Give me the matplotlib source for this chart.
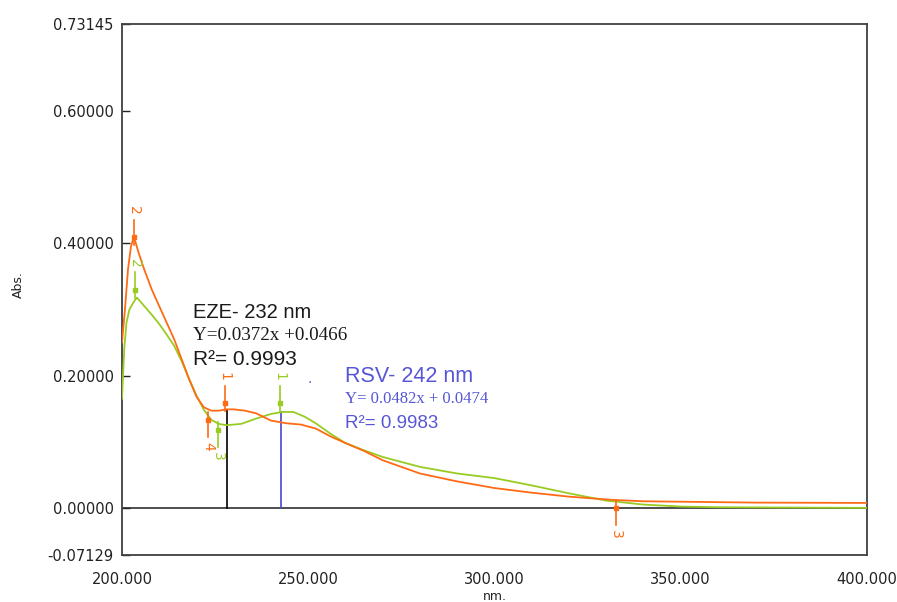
import matplotlib.pyplot as plt

# spectra (wavelength nm, absorbance)
eze_nm = [200.0, 200.8, 201.6, 202.4, 203.2, 204.5, 206, 208, 210, 212, 214, 216, 218,
          220, 222, 224, 226, 228, 230, 233, 236, 240, 244, 248, 252, 256, 260, 265,
          270, 275, 280, 290, 300, 310, 320, 332, 340, 355, 370, 400]
eze_abs = [0.25, 0.30, 0.36, 0.395, 0.41, 0.385, 0.36, 0.33, 0.305, 0.28, 0.255, 0.225, 0.195,
           0.168, 0.152, 0.147, 0.147, 0.149, 0.149, 0.147, 0.143, 0.132, 0.128, 0.126, 0.120,
           0.108, 0.098, 0.086, 0.072, 0.062, 0.052, 0.040, 0.030, 0.023, 0.017, 0.012,
           0.010, 0.009, 0.008, 0.0075]

rsv_nm = [200.0, 200.6, 201.2, 202, 203, 204, 206, 208, 210, 212, 214, 216, 218, 220,
          222, 224, 226, 228, 232, 236, 240, 243, 246, 249, 252, 256, 260, 265, 270,
          280, 290, 300, 310, 320, 330, 340, 350, 360, 400]
rsv_abs = [0.165, 0.24, 0.28, 0.30, 0.31, 0.318, 0.305, 0.292, 0.278, 0.262, 0.245, 0.222,
           0.195, 0.170, 0.148, 0.133, 0.127, 0.125, 0.127, 0.135, 0.142, 0.145, 0.145,
           0.138, 0.128, 0.112, 0.098, 0.087, 0.077, 0.062, 0.052, 0.045, 0.034, 0.022,
           0.011, 0.005, 0.002, 0.001, 0.0]

# peak pick markers: wavelength, absorbance, label
eze_pk_nm = [203.2, 227.6, 223.1, 332.6]
eze_pk_abs = [0.41, 0.159, 0.133, 0.0]
eze_pk_lab = ['2', '1', '4', '3']
eze_pk_dir = [1, 1, -1, -1]

rsv_pk_nm = [203.5, 242.4, 225.8]
rsv_pk_abs = [0.33, 0.159, 0.118]
rsv_pk_lab = ['2', '1', '3']
rsv_pk_dir = [1, 1, -1]

eze_line_nm, eze_line_abs = 228.2, 0.148
rsv_line_nm, rsv_line_abs = 242.7, 0.145

y_ticks = [-0.07129, 0.0, 0.2, 0.4, 0.6, 0.73145]
x_ticks = [200, 250, 300, 350, 400]

ORANGE = '#ff6a14'
GREEN = '#99cc22'
BLUE_TXT = '#5656d6'

plt.rcParams['font.family'] = ['DejaVu Sans']

fig = plt.figure(figsize=(8.97, 6.02), dpi=100)
ax = fig.add_axes([0.136, 0.078, 0.8305, 0.882])

ax.axhline(0, color='#303030', lw=1.2, zorder=1)
ax.plot(rsv_nm, rsv_abs, color=GREEN, lw=1.3, zorder=3)
ax.plot(eze_nm, eze_abs, color=ORANGE, lw=1.3, zorder=4)

ax.plot([eze_line_nm, eze_line_nm], [0, eze_line_abs], color='black', lw=1.2, zorder=2)
ax.plot([rsv_line_nm, rsv_line_nm], [0, rsv_line_abs], color='#4848c8', lw=1.2, zorder=2)


def peaks(nms, vals, labs, dirs, color):
    for x, y, lab, d in zip(nms, vals, labs, dirs):
        ax.plot([x, x], [y - 0.012 * d, y + 0.026 * d], color=color, lw=1.2, zorder=5)
        ax.plot([x], [y], 's', color=color, ms=3, zorder=5)
        ax.text(x, y + 0.04 * d, lab, color=color, fontsize=10, rotation=270,
                ha='center', va='center', zorder=5)


peaks(eze_pk_nm, eze_pk_abs, eze_pk_lab, eze_pk_dir, ORANGE)
peaks(rsv_pk_nm, rsv_pk_abs, rsv_pk_lab, rsv_pk_dir, GREEN)

# annotations
ax.text(219.1, 0.295, 'EZE- 232 nm', fontsize=14.5, family='Liberation Sans',
        color='#1a1a1a', va='center')
ax.text(219.1, 0.260, 'Y=0.0372x +0.0466', fontsize=13.8, family='Liberation Serif',
        color='#1a1a1a', va='center')
ax.text(219.1, 0.225, 'R²= 0.9993', fontsize=15, family='Liberation Sans',
        color='#1a1a1a', va='center')

ax.text(260.0, 0.199, 'RSV- 242 nm', fontsize=15.5, family='Liberation Sans',
        color=BLUE_TXT, va='center')
ax.text(260.0, 0.164, 'Y= 0.0482x + 0.0474', fontsize=12, family='Liberation Serif',
        color=BLUE_TXT, va='center')
ax.text(260.0, 0.127, 'R²= 0.9983', fontsize=13.5, family='Liberation Sans',
        color=BLUE_TXT, va='center')
ax.text(250.5, 0.195, '.', fontsize=10, color=BLUE_TXT, ha='center', va='center')

ax.set_xlim(200, 400)
ax.set_ylim(-0.07129, 0.73145)
ax.set_xticks(x_ticks)
ax.set_xticklabels(['%.3f' % v for v in x_ticks])
ax.set_yticks(y_ticks)
ax.set_yticklabels(['%.5f' % v for v in y_ticks])
ax.tick_params(axis='y', direction='in', length=6, width=1, pad=6, labelsize=10.5,
               colors='#222222')
ax.tick_params(axis='x', length=0, pad=12, labelsize=10.5, colors='#222222')
for s in ax.spines.values():
    s.set_color('#404040')
    s.set_linewidth(1.3)

fig.text(18 / 897, 1 - 285 / 602, 'Abs.', rotation=90, ha='center', va='center',
         fontsize=9, color='#222222')
fig.text(495 / 897, 1 - 597 / 602, 'nm.', ha='center', va='center', fontsize=9,
         color='#222222')

fig.savefig('out.png', dpi=100)
